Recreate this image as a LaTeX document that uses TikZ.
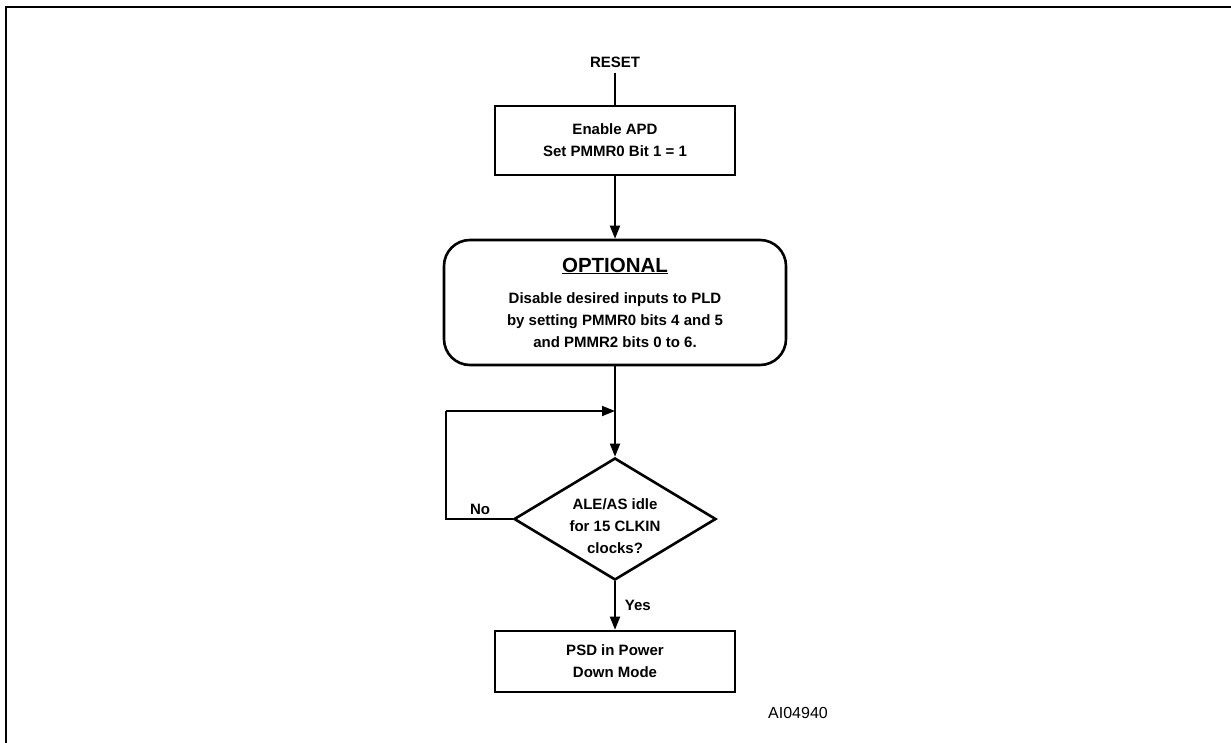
\documentclass[tikz,border=0pt]{standalone}
\usepackage{fontspec}
\setmainfont{Liberation Sans}
\usetikzlibrary{shapes.geometric,arrows.meta,positioning}
\begin{document}
\begin{tikzpicture}[x=1pt,y=-1pt,
  boxline/.style={draw=black,line width=2.6pt},
  procbox/.style={boxline,rectangle,inner sep=0pt,align=center,
     font=\fontsize{15}{22}\selectfont\bfseries},
  plain/.style={inner sep=0pt,align=center,font=\fontsize{15}{22}\selectfont\bfseries},
  conn/.style={draw=black,line width=1.8pt},
  arr/.style={conn,-{Triangle[length=13pt,width=10pt]}}
]
\useasboundingbox (0,0) rectangle (1231,742);
% frame
\draw[line width=2.6pt] (6,760) -- (6,7) -- (1250,7);

\node[plain] (reset) at (615,62) {RESET};
\node[procbox,minimum width=240pt,minimum height=69pt] (b1) at (615,140.5)
  {Enable APD\\Set PMMR0 Bit 1 = 1};
\node[procbox,rounded corners=26pt,minimum width=342pt,minimum height=125pt] (opt) at (615,302.5) {};
\node[plain,font=\fontsize{20.5}{24}\selectfont\bfseries] (optt) at (615,266) {\underline{OPTIONAL}};
\node[plain] (optb) at (615,320) {Disable desired inputs to PLD\\by setting PMMR0 bits 4 and 5\\and PMMR2 bits 0 to 6.};
\node[boxline,diamond,inner sep=0pt,minimum width=202pt,minimum height=122pt] (dec) at (615,519) {};
\node[plain] (dect) at (615,526) {ALE/AS idle\\for 15 CLKIN\\clocks?};
\node[procbox,minimum width=240pt,minimum height=61pt] (b2) at (615,661.5)
  {PSD in Power\\Down Mode};
\node[inner sep=0pt,font=\fontsize{16}{18}\selectfont] (ai) at (798,713) {AI04940};

\coordinate (lb) at (446,519);
\coordinate (lt) at (446,411);
\coordinate (j) at (615,411);

\draw[conn] (reset.south) ++(0,5) -- (reset.south |- b1.north);
\draw[arr] (b1.south) -- (opt.north);
\draw[arr] (opt.south) -- (dec.north);
\draw[conn] (dec.west) -- (lb) -- (lt);
\draw[arr] (lt) -- (j);
\draw[arr] (dec.south) -- (b2.north)
  node[pos=0.5,right=9pt,plain] (yes) {Yes};
\node[plain] (no) at (480,509) {No};
\end{tikzpicture}
\end{document}
